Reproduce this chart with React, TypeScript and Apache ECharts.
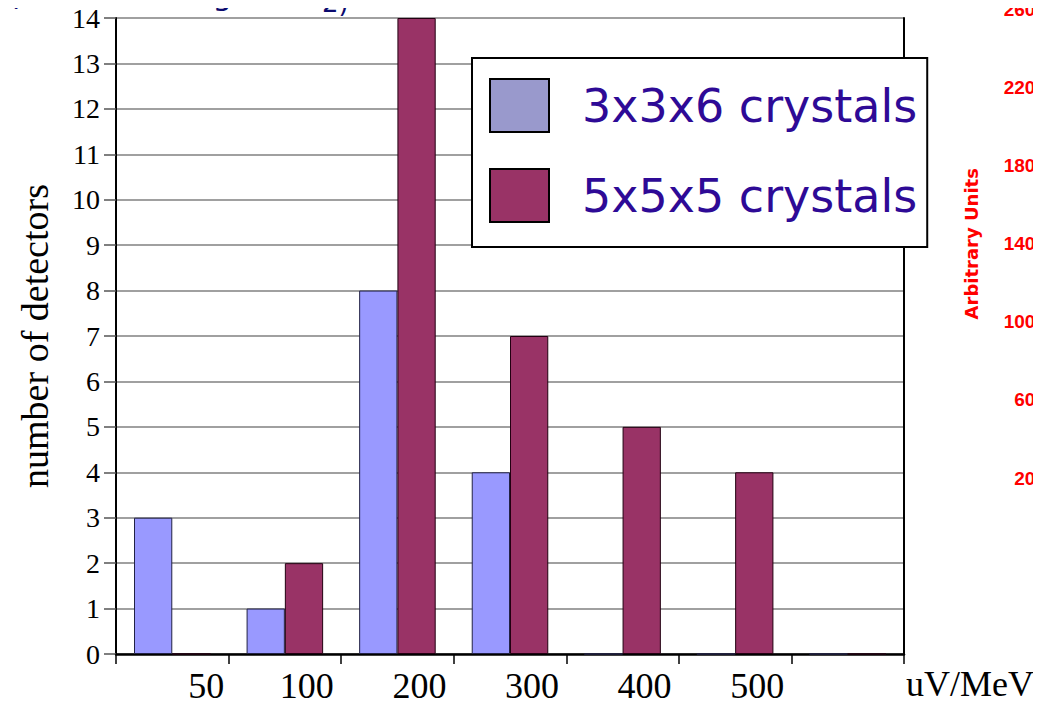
import React, { useEffect, useRef } from "react";
import * as echarts from "echarts";

const categories = ["50", "100", "200", "300", "400", "500", ""];
const crystals336 = [3, 1, 8, 4, 0, 0, 0];
const crystals555 = [0, 2, 14, 7, 5, 4, 0];
const seriesNames = ["3x3x6 crystals", "5x5x5 crystals"];
const yMin = 0;
const yMax = 14;
const rightMin = 200;
const rightMax = 2600;
const rightStep = 400;
const xUnit = "uV/MeV";
const yName = "number of detectors";
const rightName = "Arbitrary Units";
const titleMain = "(Cherenkov light in PbF";
const titleSub = "2)";

export default function App() {
  const ref = useRef<HTMLDivElement>(null);
  useEffect(() => {
    if (!ref.current) return;
    const chart = echarts.init(ref.current, null, { renderer: "svg" });
    const serif = "'Liberation Serif', 'Times New Roman', serif";
    const comic = "'Comic Sans MS', 'DejaVu Sans', sans-serif";
    chart.setOption({
      animation: false,
      backgroundColor: "#ffffff",
      grid: [
        { left: 116, right: 137, top: 18, bottom: 52, containLabel: false },
        { left: 1053, width: 10, top: -2, height: 480, containLabel: false },
      ],
      legend: {
        orient: "vertical",
        left: 472,
        top: 58,
        padding: [20, 10, 24, 17],
        itemGap: 35,
        itemWidth: 59,
        itemHeight: 53,
        icon: "rect",
        backgroundColor: "#ffffff",
        borderColor: "#000000",
        borderWidth: 2,
        borderRadius: 0,
        selectedMode: false,
        textStyle: {
          fontSize: 46,
          fontFamily: comic,
          color: "#2e0a96",
          padding: [14, 0, 0, 28],
        },
        itemStyle: { borderColor: "#000000", borderWidth: 2 },
        data: [
          { name: seriesNames[0], itemStyle: { color: "#9999cc", borderColor: "#000", borderWidth: 2 } },
          { name: seriesNames[1], itemStyle: { color: "#993366", borderColor: "#000", borderWidth: 2 } },
        ],
      },
      xAxis: [
        {
          type: "category",
          gridIndex: 0,
          data: categories,
          name: xUnit,
          nameLocation: "end",
          nameGap: 2,
          nameTextStyle: {
            fontSize: 36,
            fontFamily: serif,
            color: "#000",
            align: "left",
            verticalAlign: "top",
            padding: [12, 0, 0, 0],
          },
          axisLine: { show: true, lineStyle: { color: "#000", width: 2.5 } },
          axisTick: { show: true, interval: 0, alignWithLabel: false, length: 10, lineStyle: { color: "#000", width: 1.5 } },
          axisLabel: {
            interval: 0,
            fontSize: 36,
            fontFamily: serif,
            color: "#000",
            margin: 14,
            padding: [0, 0, 0, 44],
            formatter: (v: string) => (v === "50" ? `{w|${v}}` : v),
            rich: {
              w: { fontSize: 36, fontFamily: serif, color: "#000", padding: [0, 0, 0, 24] },
            },
          },
          splitLine: { show: false },
        },
        { type: "value", gridIndex: 1, show: false },
      ],
      yAxis: [
        {
          type: "value",
          gridIndex: 0,
          min: yMin,
          max: yMax,
          interval: 1,
          name: yName,
          nameLocation: "middle",
          nameRotate: 90,
          nameGap: 62,
          nameTextStyle: { fontSize: 38, fontFamily: serif, color: "#000" },
          axisLine: { show: true, lineStyle: { color: "#000", width: 2 } },
          axisTick: { show: true, inside: false, length: 12, lineStyle: { color: "#555", width: 1.5 } },
          axisLabel: { fontSize: 28, fontFamily: serif, color: "#000", margin: 16 },
          splitLine: { show: true, lineStyle: { color: "#808080", width: 1.5 } },
        },
        {
          type: "value",
          gridIndex: 0,
          position: "right",
          min: yMin,
          max: yMax,
          interval: 1,
          axisLine: { show: true, onZero: false, lineStyle: { color: "#000", width: 2 } },
          axisTick: { show: false },
          axisLabel: { show: false },
          splitLine: { show: false },
        },
        {
          type: "value",
          gridIndex: 1,
          position: "left",
          min: rightMin,
          max: rightMax,
          interval: rightStep,
          name: rightName,
          nameLocation: "middle",
          nameRotate: 90,
          nameGap: 73,
          nameTextStyle: { fontSize: 18, fontWeight: "bold", fontFamily: comic, color: "#ff0000" },
          axisLine: { show: false },
          axisTick: { show: false },
          axisLabel: {
            fontSize: 19,
            fontWeight: "bold",
            fontFamily: "'Liberation Sans', Arial, sans-serif",
            color: "#ff0000",
            margin: 7,
            formatter: (v: number) => String(v),
          },
          splitLine: { show: false },
        },
      ],
      series: [
        {
          name: seriesNames[0],
          type: "bar",
          xAxisIndex: 0,
          yAxisIndex: 0,
          data: crystals336,
          barGap: "0%",
          barCategoryGap: "32%",
          itemStyle: { color: "#9999ff", borderColor: "#222244", borderWidth: 1 },
        },
        {
          name: seriesNames[1],
          type: "bar",
          xAxisIndex: 0,
          yAxisIndex: 0,
          data: crystals555,
          barGap: "0%",
          barCategoryGap: "32%",
          itemStyle: { color: "#993366", borderColor: "#220011", borderWidth: 1 },
        },
      ],
      graphic: [
        {
          type: "text",
          x: 8,
          y: 9,
          style: { text: titleMain, fontSize: 31, fontFamily: comic, fill: "#0a0a6e", verticalAlign: "bottom", align: "left" },
        },
        {
          type: "text",
          x: 322,
          y: 16,
          style: { text: titleSub, fontSize: 26, fontFamily: comic, fill: "#0a0a6e", verticalAlign: "bottom", align: "left" },
        },
      ],
    });
    return () => chart.dispose();
  }, []);
  return <div ref={ref} style={{ width: 1041, height: 706, margin: -8 }} />;
}
